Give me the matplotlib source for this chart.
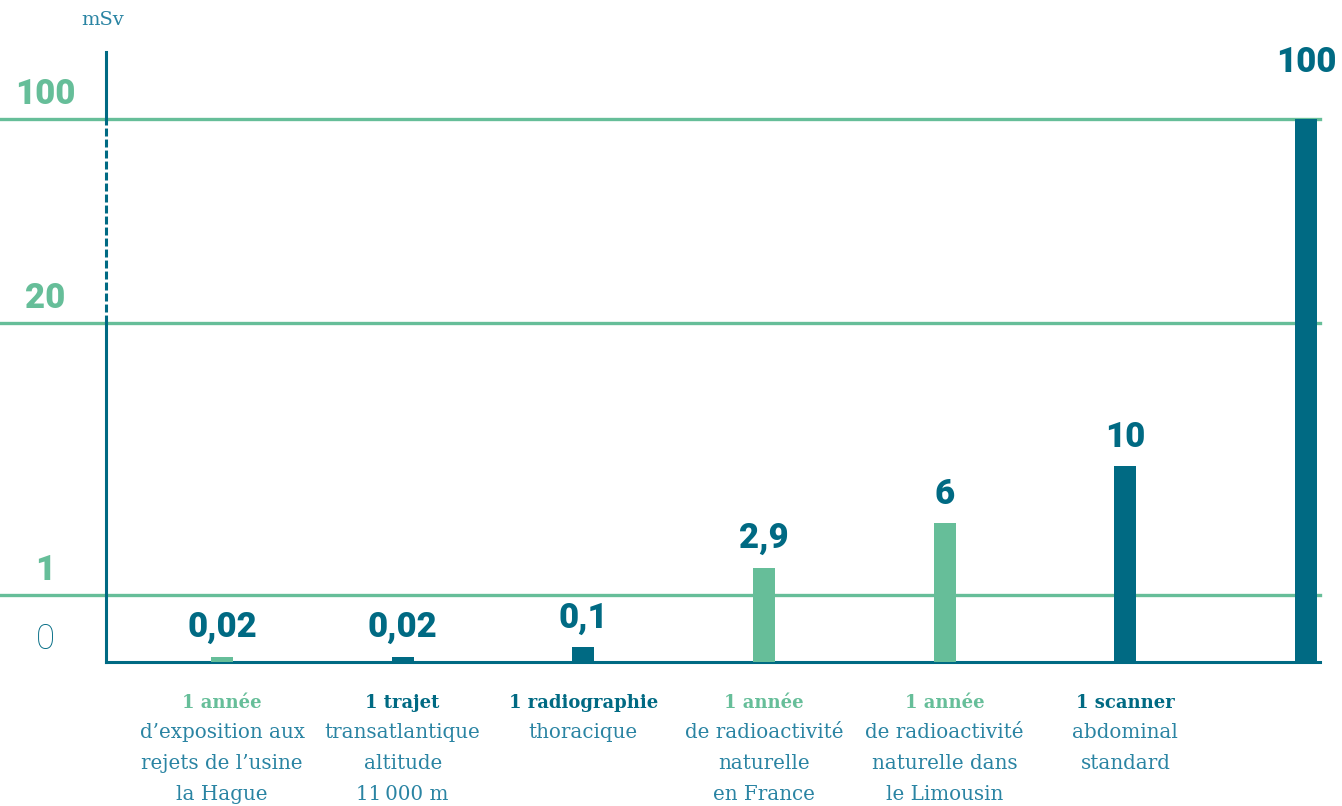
import numpy as np
import matplotlib
matplotlib.use("Agg")
import matplotlib.pyplot as plt

# données (mSv)
valeurs = [0.02, 0.02, 0.1, 2.9, 6, 10, 100]
etiquettes = ["0,02", "0,02", "0,1", "2,9", "6", "10", "100"]
titres = ["1 année", "1 trajet", "1 radiographie", "1 année", "1 année", "1 scanner", ""]
details = [
    "d\u2019exposition aux\nrejets de l\u2019usine\nla Hague",
    "transatlantique\naltitude\n11\u2009000 m",
    "thoracique",
    "de radioactivité\nnaturelle\nen France",
    "de radioactivité\nnaturelle dans\nle Limousin",
    "abdominal\nstandard",
    "",
]
groupes = ["vert", "bleu", "bleu", "vert", "vert", "bleu", "bleu"]
graduations = [100, 20, 1, 0]
grad_labels = ["100", "20", "1", "0"]

BLEU = "#006a83"
VERT = "#66be99"
TEXTE = "#2a84a3"
couleurs = {"vert": VERT, "bleu": BLEU}


# échelle non linéaire (0-1 compressé, 1-20 et 20-100 linéaires par morceaux)
def fwd(v):
    v = np.asarray(v, dtype=float)
    lo = 67 * np.clip(v, 0, 1) ** 0.65
    mid = np.clip(v - 1, 0, 19) * 272 / 19
    hi = np.clip(v - 20, 0, None) * 204 / 80
    return lo + mid + hi


def inv(y):
    y = np.asarray(y, dtype=float)
    return np.where(y <= 67, (np.clip(y, 0, 67) / 67) ** (1 / 0.65),
                    np.where(y <= 339, 1 + (y - 67) * 19 / 272,
                             20 + (y - 339) * 80 / 204))


fig = plt.figure(figsize=(13.42, 8.06), dpi=100)
ax = fig.add_axes([106 / 1342, (806 - 662) / 806, 1214 / 1342, 610 / 806])
ax.set_yscale("function", functions=(fwd, inv))
ax.set_ylim(0, float(inv(610)))
pas = 180.67
ax.set_xlim((106 - 222) / pas, (1320 - 222) / pas)

x = np.arange(len(valeurs))
ax.bar(x, valeurs, width=22 / pas, color=[couleurs[g] for g in groupes], zorder=3)

for s in ["top", "right", "left"]:
    ax.spines[s].set_visible(False)
ax.spines["bottom"].set_color(BLEU)
ax.spines["bottom"].set_linewidth(2.2)
ax.set_xticks([])
ax.set_yticks([])

# lignes horizontales
for g in graduations[:-1]:
    ax.axhline(g, xmin=-106 / 1214, xmax=1, color=VERT, lw=2.4, clip_on=False, zorder=2)

# axe vertical (pointillé entre 20 et 100)
tr = ax.get_yaxis_transform()
top = ax.get_ylim()[1]
ax.plot([0, 0], [0, 20], color=BLEU, lw=2.2, transform=tr, clip_on=False, zorder=2.5)
ax.plot([0, 0], [20, 100], color=BLEU, lw=2.2, ls=(0, (2.6, 1.0)), transform=tr,
        clip_on=False, zorder=2.5)
ax.plot([0, 0], [100, top], color=BLEU, lw=2.2, transform=tr, clip_on=False, zorder=2.5)

# graduations
for g, lab in zip(graduations, grad_labels):
    if g == 0:
        ax.annotate(lab, xy=(-61 / 1214, g), xycoords=tr, xytext=(0, 9.5),
                    textcoords="offset points", ha="center", va="baseline",
                    fontsize=25, fontfamily="Roboto", fontweight="light", color=BLEU)
    else:
        ax.annotate(lab, xy=(-61 / 1214, g), xycoords=tr, xytext=(0, 11),
                    textcoords="offset points", ha="center", va="baseline",
                    fontsize=25, fontfamily="Roboto", fontweight="black", color=VERT)

fig.text(103 / 1342, 1 - 20 / 806, "mSv", ha="center", va="center",
         fontsize=14, fontfamily="DejaVu Serif", color=TEXTE)

# valeurs au-dessus des barres
for i, (v, lab) in enumerate(zip(valeurs, etiquettes)):
    dy = 34 if i == len(valeurs) - 1 else 14
    ax.annotate(lab, xy=(i, v), xytext=(0, dy), textcoords="offset points",
                ha="center", va="baseline", fontsize=25, fontfamily="Roboto",
                fontweight="black", color=BLEU)

# libellés sous les barres
for i, (t, d, g) in enumerate(zip(titres, details, groupes)):
    if not t:
        continue
    ax.annotate(t, xy=(i, 0), xytext=(0, -29.5), textcoords="offset points",
                ha="center", va="center", fontsize=13, fontfamily="DejaVu Serif",
                fontweight="bold", color=couleurs[g] if g == "vert" else BLEU)
    ax.annotate(d, xy=(i, 0), xytext=(0, -44), textcoords="offset points",
                ha="center", va="top", fontsize=14.3, fontfamily="DejaVu Serif",
                color=TEXTE, linespacing=1.8)

fig.savefig("out.png", dpi=100)
